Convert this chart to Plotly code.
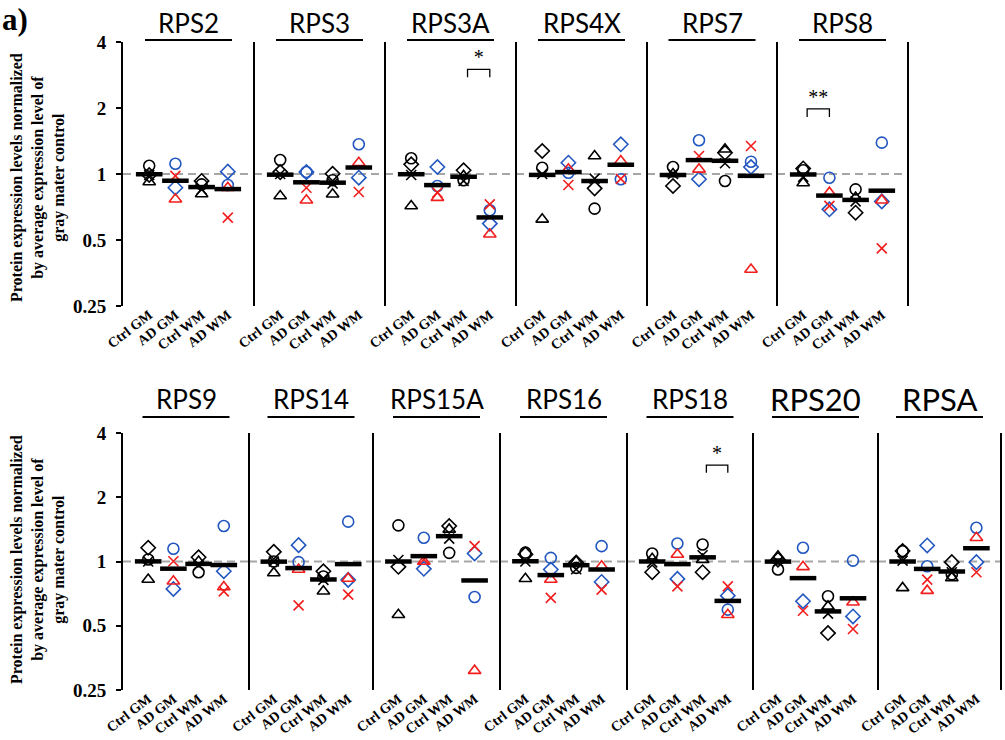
import numpy as np
import plotly.graph_objects as go

W, H = 1005, 740

GROUPS = ["Ctrl GM", "AD GM", "Ctrl WM", "AD WM"]
GENES_TOP = ["RPS2", "RPS3", "RPS3A", "RPS4X", "RPS7", "RPS8"]
GENES_BOTTOM = ["RPS9", "RPS14", "RPS15A", "RPS16", "RPS18", "RPS20", "RPSA"]
GENES = GENES_TOP + GENES_BOTTOM

Y_TICKS = [0.25, 0.5, 1, 2, 4]
Y_TICKTEXT = ["0.25", "0.5", "1", "2", "4"]
REF_LEVEL = 1.0

# subject values per gene (rows) and group (columns: Ctrl GM, AD GM, Ctrl WM, AD WM)
CIRCLE = [
    [1.09, 1.114, 0.897, 0.891],   # RPS2
    [1.158, 1.021, 0.936, 1.366],  # RPS3
    [1.179, 0.882, 0.936, 0.683],  # RPS3A
    [1.068, 1.014, 0.695, 0.946],  # RPS4X
    [1.076, 1.425, 0.929, 1.138],  # RPS7
    [1.04, 0.962, 0.851, 1.39],    # RPS8
    [1.022, 1.147, 0.891, 1.466],  # RPS9
    [1.0, 0.993, 0.85, 1.537],     # RPS14
    [1.477, 1.292, 1.098, 0.682],  # RPS15A
    [1.10, 1.04, 0.934, 1.18],     # RPS16
    [1.09, 1.215, 1.202, 0.595],   # RPS18
    [0.917, 1.16, 0.687, 1.01],    # RPS20
    [1.118, 0.95, 0.87, 1.44],     # RPSA
]
DIAMOND = [
    [0.99, 0.866, 0.93, 1.025],
    [1.02, 1.02, 1.003, 0.962],
    [1.107, 1.076, 1.04, 0.594],
    [1.273, 1.126, 0.86, 1.366],
    [0.882, 0.946, 1.25, 1.076],
    [1.06, 0.69, 0.666, 0.75],
    [1.16, 0.744, 1.047, 0.9],
    [1.11, 1.193, 0.9, 0.82],
    [0.944, 0.924, 1.466, 1.09],
    [1.08, 0.917, 0.99, 0.802],
    [0.891, 0.829, 0.891, 0.692],
    [1.02, 0.651, 0.462, 0.553],
    [1.12, 1.189, 0.993, 0.993],
]
TRIANGLE = [
    [0.92, 0.767, 0.81, 0.866],
    [0.794, 0.759, 0.808, 1.126],
    [0.715, 0.78, 0.98, 0.531],
    [0.621, 1.05, 1.208, 1.146],
    [1.0, 1.05, 1.296, 0.367],
    [0.91, 0.822, 0.78, 0.759],
    [0.823, 0.808, 1.0, 0.76],
    [0.884, 0.917, 0.725, 0.832],
    [0.563, 1.0, 1.414, 0.308],
    [0.83, 0.823, 1.0, 0.95],
    [1.03, 1.079, 1.02, 0.563],
    [1.059, 0.944, 0.616, 0.644],
    [0.752, 0.73, 0.838, 1.292],
]
CROSS = [
    [0.99, 0.98, 0.85, 0.632],
    [1.0, 0.866, 0.905, 0.828],
    [0.99, 0.822, 0.93, 0.727],
    [1.0, 0.891, 0.953, 0.95],
    [1.0, 1.208, 1.12, 1.342],
    [0.97, 0.715, 0.75, 0.458],
    [1.0, 1.003, 0.96, 0.725],
    [1.0, 0.623, 0.82, 0.7],
    [1.016, 1.022, 1.28, 1.18],
    [1.0, 0.675, 0.92, 0.738],
    [0.99, 0.765, 1.07, 0.765],
    [1.0, 0.588, 0.57, 0.483],
    [1.01, 0.823, 0.89, 0.891],
]

# significance brackets
SIG_GENE = ["RPS3A", "RPS8", "RPS18"]
SIG_FROM = [2, 0, 2]
SIG_TO = [3, 1, 3]
SIG_LABEL = ["*", "**", "*"]
SIG_LEVEL = [3.0, 1.98, 2.83]

# ---------------- layout geometry (pixels) ----------------
TOP_EDGES = [123, 254, 385, 516, 647, 777, 908]
BOT_EDGES = [123, 249, 373, 500, 627, 753, 878, 1001]
TOP_Y = (42, 306)
BOT_Y = (433, 690)

BLACK = "#000000"
BLUE = "#2357c0"
RED = "#f21d1d"
SERIF = "Liberation Serif"

fig = go.Figure()
layout = dict(
    width=W, height=H, autosize=False,
    margin=dict(l=0, r=0, t=0, b=0, pad=0, autoexpand=False),
    paper_bgcolor="white", plot_bgcolor="white",
    showlegend=False, template="none",
)
shapes, annotations = [], []


def px_x(p):
    return p / W


def px_y(p):
    return 1 - p / H


panels = []
for i, g in enumerate(GENES_TOP):
    panels.append((g, TOP_EDGES[i], TOP_EDGES[i + 1], TOP_Y, i == 0, 40, 23))
for i, g in enumerate(GENES_BOTTOM):
    panels.append((g, BOT_EDGES[i], BOT_EDGES[i + 1], BOT_Y, i == 0, 417, 399))

for gi, (gene, x0, x1, (yt, yb), first, uline_y, title_y) in enumerate(panels):
    k = gi + 1
    xa = "x" if k == 1 else f"x{k}"
    ya = "y" if k == 1 else f"y{k}"
    xkey = "xaxis" if k == 1 else f"xaxis{k}"
    ykey = "yaxis" if k == 1 else f"yaxis{k}"
    layout[xkey] = dict(
        domain=[px_x(x0), px_x(x1)], anchor=ya, range=[-1, 4], automargin=False,
        tickmode="array", tickvals=list(range(len(GROUPS))), ticktext=GROUPS,
        tickangle=-38, showgrid=False, zeroline=False, showline=False, ticks="",
        ticklabelstandoff=-3,
        tickfont=dict(family=SERIF, size=14, color=BLACK, weight="bold"),
        fixedrange=True,
    )
    yax = dict(
        domain=[px_y(yb), px_y(yt)], anchor=xa, type="log", automargin=False,
        range=[np.log10(0.25), np.log10(4)], showgrid=False, zeroline=False,
        fixedrange=True,
    )
    if first:
        yax.update(showline=True, linecolor=BLACK, linewidth=2, ticks="outside",
                   ticklen=5, tickwidth=2, tickcolor=BLACK, tickmode="array",
                   tickvals=Y_TICKS, ticktext=Y_TICKTEXT, ticklabelstandoff=6,
                   tickfont=dict(family=SERIF, size=19, color=BLACK, weight="bold"))
    else:
        yax.update(showline=False, ticks="", showticklabels=False)
    layout[ykey] = yax

    # reference dashed line at 1
    fig.add_trace(go.Scatter(
        x=[-1, 4], y=[REF_LEVEL, REF_LEVEL], mode="lines", xaxis=xa, yaxis=ya,
        line=dict(color="#a6a6a6", width=2, dash="8px,5px"), hoverinfo="skip",
        cliponaxis=False))

    # panel separator at right edge
    shapes.append(dict(type="line", xref=f"{xa} domain", yref=f"{ya} domain",
                       x0=1, x1=1, y0=0, y1=1, line=dict(color=BLACK, width=2)))
    # title and underline
    wpx = x1 - x0
    shapes.append(dict(type="line", xref=f"{xa} domain", yref="paper",
                       x0=0.5 - 43.5 / wpx, x1=0.5 + 43.5 / wpx,
                       y0=px_y(uline_y), y1=px_y(uline_y),
                       line=dict(color=BLACK, width=2)))
    big = gene in ("RPS20", "RPSA")
    annotations.append(dict(
        text=gene, xref=f"{xa} domain", yref="paper", x=0.5, y=px_y(title_y),
        xanchor="center", yanchor="middle", showarrow=False,
        font=dict(family="Lato", size=31 if big else 26, color=BLACK)))

    # subject markers
    series = [
        (CIRCLE[gi], "circle-open", 11, [BLACK, BLUE, BLACK, BLUE]),
        (DIAMOND[gi], "diamond-open", 11, [BLACK, BLUE, BLACK, BLUE]),
        (TRIANGLE[gi], "triangle-up-open", 11, [BLACK, RED, BLACK, RED]),
        (CROSS[gi], "x-thin-open", 10, [BLACK, RED, BLACK, RED]),
    ]
    for vals, sym, size, cols in series:
        fig.add_trace(go.Scatter(
            x=list(range(len(GROUPS))), y=vals, mode="markers", xaxis=xa, yaxis=ya,
            marker=dict(symbol=sym, size=size, color=cols,
                        line=dict(color=cols, width=1.6)),
            cliponaxis=False, hoverinfo="skip"))

    # mean bars
    means = [np.mean([CIRCLE[gi][j], DIAMOND[gi][j], TRIANGLE[gi][j], CROSS[gi][j]])
             for j in range(len(GROUPS))]
    fig.add_trace(go.Scatter(
        x=list(range(len(GROUPS))), y=means, mode="markers", xaxis=xa, yaxis=ya,
        marker=dict(symbol="line-ew-open", size=19, color=BLACK,
                    line=dict(color=BLACK, width=4.5)),
        cliponaxis=False, hoverinfo="skip"))

    # significance
    for sg, a, b, lab, lev in zip(SIG_GENE, SIG_FROM, SIG_TO, SIG_LABEL, SIG_LEVEL):
        if sg != gene:
            continue
        fig.add_trace(go.Scatter(
            x=[a + 0.15, a + 0.15, b, b], y=[lev * 0.92, lev, lev, lev * 0.92],
            mode="lines", xaxis=xa, yaxis=ya,
            line=dict(color=BLACK, width=1.3), hoverinfo="skip", cliponaxis=False))
        fig.add_trace(go.Scatter(
            x=[(a + 0.15 + b) / 2], y=[lev], mode="text", text=[lab],
            textposition="top center", xaxis=xa, yaxis=ya,
            textfont=dict(family=SERIF, size=20, color=BLACK),
            hoverinfo="skip", cliponaxis=False))

# y-axis titles
YTITLE = "Protein expression levels normalized<br>by average expression level of<br>gray mater control"
for cy in (178, 560):
    annotations.append(dict(
        text=YTITLE, xref="paper", yref="paper", x=px_x(38), y=px_y(cy),
        xanchor="center", yanchor="middle", textangle=-90, showarrow=False,
        font=dict(family=SERIF, size=16, color=BLACK, weight="bold")))

annotations.append(dict(
    text="a)", xref="paper", yref="paper", x=0, y=1,
    xanchor="left", yanchor="top", showarrow=False,
    font=dict(family=SERIF, size=31, color=BLACK, weight="bold")))

layout["shapes"] = shapes
layout["annotations"] = annotations
fig.update_layout(**layout)
fig.write_html("out.html")
